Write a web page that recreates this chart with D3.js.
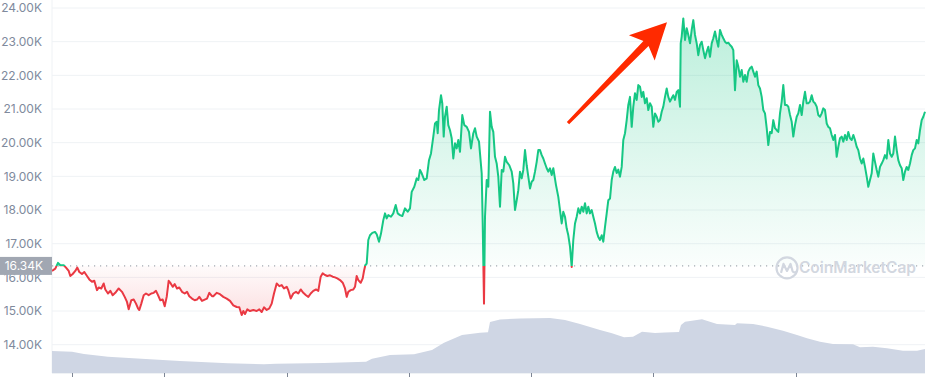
<!DOCTYPE html>
<html><head><meta charset="utf-8">
<script src="https://cdn.jsdelivr.net/npm/d3@7"></script>
<style>html,body{margin:0;padding:0;background:#fff;} svg{display:block;}</style>
</head><body><svg id="chart" width="937" height="381"></svg>
<script>
// ---------- DATA ----------
const yTickValues = [14, 15, 16, 17, 18, 19, 20, 21, 22, 23, 24];      // K USD
const xTickHours  = [4, 22.4, 47, 71.4, 95.8, 120.2, 148.8];           // hours from start
const referencePrice = 16.34;                                           // K USD (opening price)
const timeSpanHours = 174.6;

// [hour, price in K USD]
const priceSeries = [
[0,16.19],[0.66,16.26],[1.2,16.43],[1.66,16.36],[2.34,16.36],[2.8,16.29],[3.34,16.19],[3.66,16.04],[4.14,16.10],[4.66,16.19],
[5.06,16.29],[5.46,16.16],[6.0,16.10],[6.46,16.16],[7.0,16.04],[7.46,15.94],[8.0,15.87],[8.46,15.90],[9.0,15.62],[9.34,15.70],
[9.86,15.67],[10.34,15.82],[10.66,15.64],[11.2,15.52],[11.66,15.60],[12.14,15.47],[12.66,15.54],[13.34,15.67],[14.0,15.57],[14.54,15.42],
[15.0,15.27],[15.34,15.05],[15.86,15.32],[16.34,15.34],[16.8,15.22],[17.2,15.08],[17.46,15.03],[17.86,15.22],[18.34,15.47],[18.8,15.52],
[19.34,15.47],[19.86,15.52],[20.34,15.54],[20.8,15.60],[21.2,15.47],[21.66,15.32],[22.14,15.34],[22.54,15.14],[22.94,15.42],[23.34,15.90],
[23.74,15.82],[24.14,15.72],[24.54,15.80],[25.0,15.67],[25.46,15.70],[26.0,15.57],[26.54,15.52],[27.0,15.57],[27.46,15.44],[28.0,15.37],
[28.54,15.32],[29.0,15.34],[29.46,15.42],[30.0,15.30],[30.54,15.34],[31.0,15.37],[31.46,15.54],[32.0,15.44],[32.26,15.44],[32.94,15.54],
[33.6,15.50],[34.26,15.42],[34.94,15.37],[35.6,15.30],[36.26,15.17],[36.94,15.12],[37.46,15.11],[37.94,14.88],[38.26,15.00],[38.6,14.91],
[39.06,15.05],[39.6,15.00],[40.26,15.03],[40.94,15.00],[41.46,15.05],[41.94,14.97],[42.4,15.11],[42.94,15.03],[43.46,15.08],[43.94,15.22],
[44.4,15.52],[44.94,15.82],[45.46,15.74],[45.94,15.77],[46.4,15.67],[46.94,15.72],[47.26,15.62],[47.74,15.37],[48.26,15.52],[48.8,15.57],
[49.26,15.52],[49.74,15.64],[50.26,15.54],[50.8,15.47],[51.26,15.42],[51.74,15.52],[52.26,15.60],[52.8,15.64],[53.26,15.60],[53.74,16.02],
[54.14,16.12],[54.6,16.07],[55.06,16.04],[55.6,16.06],[56.14,16.02],[56.6,16.00],[57.06,15.97],[57.6,15.92],[58.14,15.84],[58.6,15.67],
[58.94,15.42],[59.26,15.57],[59.74,15.62],[60.26,15.64],[60.6,15.72],[60.94,16.04],[61.26,15.92],[61.74,15.84],[62.14,15.97],[62.4,16.19],
[62.66,16.36],[62.94,16.41],[63.26,17.11],[63.6,17.25],[64.06,17.32],[64.6,17.35],[64.94,17.28],[65.4,17.06],[65.8,17.30],[66.26,17.70],
[66.6,17.90],[66.94,17.75],[67.26,17.85],[67.8,17.80],[68.26,17.90],[68.74,18.15],[69.14,17.90],[69.6,17.85],[70.06,17.82],[70.6,18.05],
[71.14,17.95],[71.6,18.05],[71.94,18.54],[72.46,18.69],[72.94,18.94],[73.26,18.89],[73.6,19.19],[73.94,19.09],[74.46,18.89],[74.94,18.94],
[75.4,19.48],[75.8,19.68],[76.26,20.18],[76.6,20.57],[76.94,20.62],[77.14,20.28],[77.4,20.97],[77.8,21.41],[78.06,21.17],[78.34,20.18],
[78.6,20.77],[78.94,21.07],[79.26,20.52],[79.6,20.37],[79.94,20.13],[80.26,19.53],[80.6,19.98],[80.94,19.83],[81.26,20.08],[81.6,19.73],
[82.06,20.82],[82.46,20.52],[82.94,20.47],[83.4,20.32],[83.8,19.83],[84.26,20.28],[84.6,20.43],[84.94,20.18],[85.4,20.03],[85.94,19.09],
[86.14,17.60],[86.4,15.22],[86.6,17.80],[86.94,18.89],[87.26,18.69],[87.6,20.92],[87.94,20.47],[88.26,20.32],[88.6,19.58],[88.94,19.38],
[89.26,18.99],[89.6,18.10],[89.94,19.19],[90.26,19.14],[90.6,19.58],[90.94,19.43],[91.46,19.33],[91.94,19.14],[92.26,18.79],[92.6,18.00],
[92.94,18.29],[93.26,18.59],[93.6,19.14],[93.94,18.94],[94.26,19.19],[94.6,19.78],[94.94,19.33],[95.26,18.99],[95.6,18.64],[95.94,18.84],
[96.26,18.89],[96.6,19.14],[96.94,19.43],[97.26,19.78],[97.6,19.78],[97.94,19.63],[98.26,19.53],[98.6,19.38],[98.94,19.24],[99.26,19.14],
[99.6,19.24],[99.94,19.04],[100.26,19.24],[100.8,18.74],[101.26,18.39],[101.6,18.00],[101.94,17.60],[102.26,17.95],[102.6,17.80],[102.94,17.45],
[103.26,17.25],[103.6,16.91],[103.94,16.31],[104.26,17.11],[104.6,17.60],[104.94,17.80],[105.26,18.05],[105.6,17.90],[105.94,18.10],[106.26,17.95],
[106.6,18.20],[106.94,17.90],[107.26,18.10],[107.6,17.90],[107.94,18.00],[108.26,17.80],[108.6,17.60],[108.94,17.35],[109.26,17.20],[109.6,17.11],
[109.94,17.25],[110.26,17.06],[110.6,17.50],[110.94,17.90],[111.26,18.29],[111.6,18.34],[111.94,18.89],[112.26,19.14],[112.6,19.28],[112.94,19.10],
[113.26,19.20],[113.6,18.99],[113.94,19.28],[114.26,20.08],[114.6,20.28],[114.94,20.67],[115.26,21.12],[115.6,21.36],[115.94,20.47],[116.26,21.07],
[116.6,21.47],[116.94,21.27],[117.26,21.71],[117.6,21.66],[117.94,21.36],[118.26,21.51],[118.6,21.17],[118.94,21.32],[119.26,20.97],[119.6,21.17],
[119.94,21.07],[120.26,20.47],[120.6,20.87],[120.94,20.77],[121.26,20.62],[121.6,20.67],[121.94,20.92],[122.26,21.07],[122.6,21.36],[122.94,21.61],
[123.26,21.36],[123.6,21.22],[123.94,21.32],[124.26,21.41],[124.6,21.27],[124.94,21.51],[125.26,21.56],[125.6,21.07],[125.74,22.95],[125.94,23.15],
[126.26,23.69],[126.6,23.05],[126.94,23.40],[127.26,23.20],[127.6,22.95],[127.94,23.35],[128.26,23.64],[128.6,23.20],[128.94,22.95],[129.26,22.60],
[129.6,22.90],[129.94,23.00],[130.26,22.75],[130.6,22.51],[130.94,22.70],[131.26,22.85],[131.6,22.55],[131.94,22.95],[132.26,23.10],[132.6,23.30],
[132.94,23.05],[133.26,22.85],[133.6,23.35],[133.94,23.20],[134.26,23.10],[134.6,23.00],[134.94,22.95],[135.26,22.97],[135.6,22.90],[135.94,22.85],
[136.26,22.75],[136.6,21.56],[136.94,22.45],[137.26,22.26],[137.6,21.96],[137.94,22.16],[138.26,21.81],[138.6,22.01],[138.94,21.81],[139.26,22.11],
[139.6,22.21],[139.94,22.26],[140.26,22.11],[140.6,21.96],[140.94,22.11],[141.26,21.71],[141.6,21.61],[141.94,21.36],[142.26,20.97],[142.6,20.87],
[142.94,20.43],[143.26,19.93],[143.6,20.32],[143.94,20.28],[144.26,20.67],[144.6,20.43],[144.94,20.37],[145.26,20.32],[145.6,20.87],[145.94,21.22],
[146.26,21.71],[146.6,21.12],[146.94,21.12],[147.26,21.07],[147.6,20.82],[147.94,20.62],[148.26,20.18],[148.6,20.52],[148.94,20.77],[149.26,20.87],
[149.6,21.12],[149.94,20.82],[150.26,21.22],[150.6,21.51],[150.94,21.17],[151.26,21.17],[151.6,21.22],[151.94,21.41],[152.26,21.22],[152.6,21.17],
[152.94,21.07],[153.26,20.82],[153.6,20.77],[153.94,20.87],[154.26,21.02],[154.6,20.97],[154.94,20.57],[155.26,20.47],[155.6,20.43],[155.94,20.23],
[156.26,20.08],[156.6,20.23],[156.94,19.58],[157.26,19.88],[157.6,20.13],[157.94,20.18],[158.26,20.03],[158.6,20.23],[158.94,20.08],[159.26,20.32],
[159.6,20.13],[159.94,20.08],[160.26,20.23],[160.6,20.08],[160.94,19.88],[161.26,19.78],[161.6,19.53],[161.94,19.38],[162.26,19.53],[162.6,19.28],
[162.94,18.99],[163.26,18.69],[163.6,18.89],[163.94,19.09],[164.26,19.68],[164.6,19.43],[164.94,19.19],[165.26,18.99],[165.6,19.28],[165.94,19.38],
[166.26,19.48],[166.6,19.63],[166.94,19.53],[167.26,20.08],[167.6,19.68],[167.94,19.58],[168.26,19.68],[168.6,20.18],[168.94,19.78],[169.26,19.48],
[169.6,19.33],[169.94,19.24],[170.26,18.89],[170.6,19.14],[170.94,19.28],[171.26,19.19],[171.6,19.38],[171.94,19.63],[172.26,19.78],[172.6,19.83],
[172.94,20.08],[173.26,19.98],[173.6,20.37],[173.94,20.67],[174.26,20.77],[174.6,20.92]
];

// [hour, 24h volume in B USD]
const volumeSeries = [
[0,11.0],[4,10.65],[6.4,9.5],[11.2,8.15],[19.6,6.85],[25.6,6.0],[35.2,4.85],[42.4,4.35],[44.8,4.65],[54.4,5.0],
[62.8,5.65],[64,7.15],[67.6,9.0],[72.4,9.35],[76,11.5],[78.4,15.15],[82,19.0],[85.6,20.15],[87.2,20.4],[87.6,25.5],[89.6,26.75],
[93.6,27.25],[99.6,27.5],[102.6,26.5],[105.6,24.5],[109.6,21.5],[112,19.85],[114.4,17.85],[116.2,18.15],[118,20.65],[120.6,20.0],
[122.6,20.25],[125.4,20.5],[125.8,24.0],[126.6,25.65],[130,26.85],[133,24.5],[136.6,24.0],[137,24.85],[140.2,24.5],[143,23.15],
[146.2,21.15],[149,19.0],[151,17.35],[153.6,15.65],[156.2,14.5],[160.2,14.35],[161.6,12.85],[164.2,13.15],[167,12.35],[170.2,11.15],
[173,11.15],[174.6,12.0]
];
const volumeMax = 30;

// annotation arrow, in data units [hour, price]
const arrowFrom = [103.2, 20.58];
const arrowTo   = [123.0, 23.58];
const watermarkText = "CoinMarketCap";

// ---------- LAYOUT / STYLE ----------
const W = 937, H = 381;
const plotLeft = 52, plotRight = 925, axisY = 373;
const GREEN = "#16c784", RED = "#ea3943";
const svg = d3.select("#chart");

const x = d3.scaleLinear().domain([0, timeSpanHours]).range([plotLeft, plotRight]);
const y = d3.scaleLinear().domain([14, 24]).range([344.7, 8]);
const yVol = d3.scaleLinear().domain([0, volumeMax]).range([axisY, axisY - 60]);
const yBase = y(referencePrice);

const defs = svg.append("defs");
defs.append("clipPath").attr("id", "above").append("rect")
  .attr("x", plotLeft).attr("y", 0).attr("width", plotRight - plotLeft + 2).attr("height", yBase);
defs.append("clipPath").attr("id", "below").append("rect")
  .attr("x", plotLeft).attr("y", yBase).attr("width", plotRight - plotLeft + 2).attr("height", H - yBase);

const gG = defs.append("linearGradient").attr("id", "gGreen").attr("gradientUnits", "userSpaceOnUse")
  .attr("x1", 0).attr("x2", 0).attr("y1", y(24)).attr("y2", yBase);
gG.append("stop").attr("offset", 0).attr("stop-color", GREEN).attr("stop-opacity", 0.30);
gG.append("stop").attr("offset", 1).attr("stop-color", GREEN).attr("stop-opacity", 0.02);
const gR = defs.append("linearGradient").attr("id", "gRed").attr("gradientUnits", "userSpaceOnUse")
  .attr("x1", 0).attr("x2", 0).attr("y1", yBase).attr("y2", y(14.85));
gR.append("stop").attr("offset", 0).attr("stop-color", RED).attr("stop-opacity", 0.02);
gR.append("stop").attr("offset", 1).attr("stop-color", RED).attr("stop-opacity", 0.16);

// gridlines
svg.append("g").selectAll("line").data(yTickValues).join("line")
  .attr("x1", plotLeft).attr("x2", plotRight)
  .attr("y1", d => y(d)).attr("y2", d => y(d))
  .attr("stroke", "#eff2f5").attr("stroke-width", 1);

// left axis line
svg.append("line").attr("x1", plotLeft).attr("x2", plotLeft).attr("y1", 0).attr("y2", axisY)
  .attr("stroke", "#eff2f5");

// volume
svg.append("path").datum(volumeSeries)
  .attr("d", d3.area().x(d => x(d[0])).y0(axisY).y1(d => yVol(d[1])))
  .attr("fill", "#cfd6e4");

// price fills
const area = d3.area().x(d => x(d[0])).y0(yBase).y1(d => y(d[1]));
svg.append("path").datum(priceSeries).attr("d", area).attr("fill", "url(#gGreen)").attr("clip-path", "url(#above)");
svg.append("path").datum(priceSeries).attr("d", area).attr("fill", "url(#gRed)").attr("clip-path", "url(#below)");

// reference dotted line
svg.append("line").attr("x1", plotLeft).attr("x2", plotRight).attr("y1", yBase).attr("y2", yBase)
  .attr("stroke", "#8c939e").attr("stroke-width", 1).attr("stroke-dasharray", "1.2 4.8");

// price line
const line = d3.line().x(d => x(d[0])).y(d => y(d[1]));
svg.append("path").datum(priceSeries).attr("d", line).attr("fill", "none")
  .attr("stroke", GREEN).attr("stroke-width", 2).attr("stroke-linejoin", "round").attr("clip-path", "url(#above)");
svg.append("path").datum(priceSeries).attr("d", line).attr("fill", "none")
  .attr("stroke", RED).attr("stroke-width", 2).attr("stroke-linejoin", "round").attr("clip-path", "url(#below)");

// bottom axis
const xAxis = d3.axisBottom(x).tickValues(xTickHours).tickSize(4).tickFormat("");
const gx = svg.append("g").attr("transform", `translate(0,${axisY})`).call(xAxis);
gx.select(".domain").attr("stroke", "#eff2f5").attr("d", `M${plotLeft},0.5H${plotRight}`);
gx.selectAll(".tick line").attr("stroke", "#7d8595");

// y labels
const yAxis = d3.axisLeft(y).tickValues(yTickValues).tickSize(0).tickPadding(10)
  .tickFormat(d => d3.format(".2f")(d) + "K");
const gy = svg.append("g").attr("transform", `translate(${plotLeft},0)`).call(yAxis);
gy.select(".domain").remove();
gy.selectAll("text").attr("fill", "#808a9d").style("font-family", "Inter, 'Noto Sans', sans-serif")
  .style("font-size", "12px");

// reference price label (covers the 16.00K label as in the original)
const lbl = svg.append("g");
lbl.append("rect").attr("x", 0).attr("y", yBase - 9).attr("width", plotLeft).attr("height", 18)
  .attr("fill", "#a1a7b2");
lbl.append("text").attr("x", plotLeft - 9).attr("y", yBase).attr("dy", "0.35em").attr("text-anchor", "end")
  .attr("fill", "#ffffff").style("font-family", "Inter, 'Noto Sans', sans-serif").style("font-size", "12px")
  .text(d3.format(".2f")(referencePrice) + "K");

// watermark
const wm = svg.append("g");
const wmY = yBase + 2;
wm.append("text").attr("x", plotRight - 9).attr("y", wmY).attr("dy", "0.35em").attr("text-anchor", "end")
  .attr("fill", "#d2d7e0").style("font-family", "Inter, 'Noto Sans', sans-serif")
  .style("font-size", "15.5px").style("font-weight", "600").text(watermarkText);
const lx = 787, ly = wmY;
wm.append("circle").attr("cx", lx).attr("cy", ly).attr("r", 10.5).attr("fill", "none")
  .attr("stroke", "#d2d7e0").attr("stroke-width", 2.2);
wm.append("path").attr("d", `M${lx-6},${ly+5} L${lx-3.5},${ly-4} L${lx},${ly+3} L${lx+3.5},${ly-4} L${lx+5.5},${ly+3} Q${lx+7},${ly+6} ${lx+10},${ly+3}`)
  .attr("fill", "none").attr("stroke", "#d2d7e0").attr("stroke-width", 2.2).attr("stroke-linejoin", "round");

// annotation arrow
(function () {
  const x0 = x(arrowFrom[0]), y0 = y(arrowFrom[1]);
  const x1 = x(arrowTo[0]),   y1 = y(arrowTo[1]);
  const dx = x1 - x0, dy = y1 - y0, L = Math.hypot(dx, dy);
  const ux = dx / L, uy = dy / L, nx = -uy, ny = ux;
  const headLen = 36, headHalf = 18, tailHalf = 1.6, neckHalf = 3.6;
  const bx = x1 - ux * headLen, by = y1 - uy * headLen;
  const nbx = x1 - ux * (headLen - 6), nby = y1 - uy * (headLen - 6);
  const pts = [
    [x0 + nx * tailHalf, y0 + ny * tailHalf],
    [nbx + nx * neckHalf, nby + ny * neckHalf],
    [bx + nx * headHalf, by + ny * headHalf],
    [x1, y1],
    [bx - nx * headHalf, by - ny * headHalf],
    [nbx - nx * neckHalf, nby - ny * neckHalf],
    [x0 - nx * tailHalf, y0 - ny * tailHalf]
  ];
  svg.append("path").attr("d", "M" + pts.map(p => p.join(",")).join("L") + "Z")
    .attr("fill", "#ff2a00");
})();
</script></body></html>
